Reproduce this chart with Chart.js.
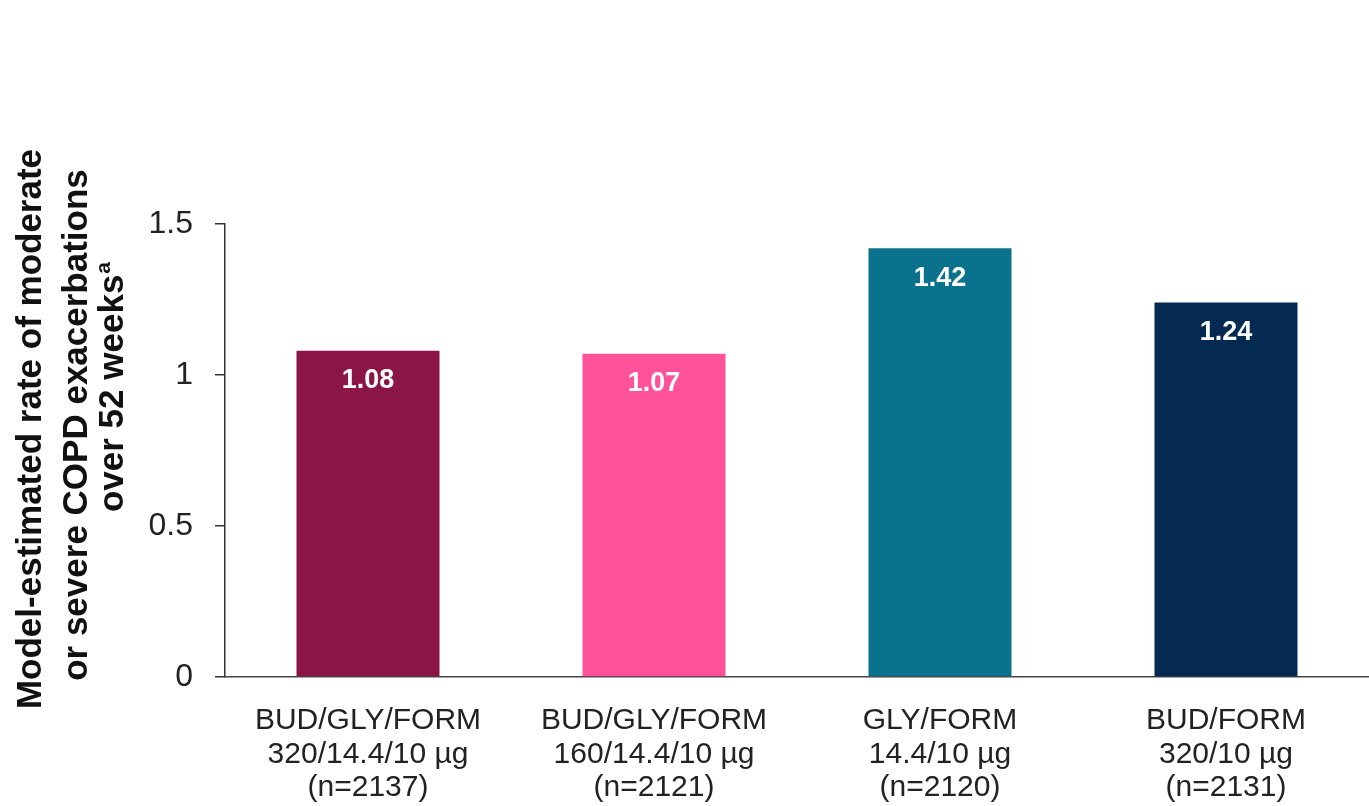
<!DOCTYPE html>
<html lang="en">
<head>
    <meta charset="UTF-8">
    <title>COPD exacerbation rate</title>
    <script src="https://cdn.jsdelivr.net/npm/chart.js@4.4.1/dist/chart.umd.min.js"></script>
    <style>
        body {
            margin: 0;
            background: #ffffff;
        }
        #rateChart {
            display: block;
        }
    </style>
</head>
<body>
    <canvas id="rateChart" width="1369" height="806"></canvas>

    <script>
        // treatment arms, shown as three-line labels under the bars
        const armNames = ['BUD/GLY/FORM', 'BUD/GLY/FORM', 'GLY/FORM', 'BUD/FORM'];
        const armDoses = ['320/14.4/10 \u00b5g', '160/14.4/10 \u00b5g', '14.4/10 \u00b5g', '320/10 \u00b5g'];
        const armCounts = ['(n=2137)', '(n=2121)', '(n=2120)', '(n=2131)'];

        // model-estimated annual rate of moderate/severe exacerbations
        const rates = [1.08, 1.07, 1.42, 1.24];
        const barColors = ['#8b1546', '#ff529b', '#0a728c', '#052a52'];

        const yTicks = [0, 0.5, 1, 1.5];
        const yTickLabels = ['0', '0.5', '1', '1.5'];

        const titleLines = ['Model-estimated rate of moderate', 'or severe COPD exacerbations', 'over 52 weeks'];

        const categories = armNames.map((n, i) => [n, armDoses[i], armCounts[i]]);

        // rotated y-axis title, with the footnote mark on the last line
        const sideTitle = {
            id: 'sideTitle',
            afterDraw(chart) {
                const ctx = chart.ctx;
                const baselines = [41, 87, 123];
                const centers = [429, 425, 387];
                ctx.save();
                ctx.fillStyle = '#111';
                ctx.textBaseline = 'alphabetic';
                titleLines.forEach((line, i) => {
                    ctx.save();
                    ctx.translate(baselines[i], centers[i]);
                    ctx.rotate(-Math.PI / 2);
                    ctx.font = 'bold 35px Arial, "Liberation Sans", sans-serif';
                    const w = ctx.measureText(line).width;
                    let supW = 0;
                    if (i === titleLines.length - 1) {
                        ctx.font = 'bold 21px Arial, "Liberation Sans", sans-serif';
                        supW = ctx.measureText('a').width + 1;
                    }
                    const start = -(w + supW) / 2;
                    ctx.font = 'bold 35px Arial, "Liberation Sans", sans-serif';
                    ctx.textAlign = 'left';
                    ctx.fillText(line, start, 0);
                    if (supW) {
                        ctx.font = 'bold 21px Arial, "Liberation Sans", sans-serif';
                        ctx.fillText('a', start + w + 1, -13);
                    }
                    ctx.restore();
                });
                ctx.restore();
            }
        };

        // white value printed inside the top of each bar
        const barValues = {
            id: 'barValues',
            afterDatasetsDraw(chart) {
                const ctx = chart.ctx;
                const meta = chart.getDatasetMeta(0);
                ctx.save();
                ctx.fillStyle = '#ffffff';
                ctx.font = 'bold 27px Arial, "Liberation Sans", sans-serif';
                ctx.textAlign = 'center';
                ctx.textBaseline = 'middle';
                meta.data.forEach((bar, i) => {
                    ctx.fillText(rates[i].toFixed(2), bar.x, bar.y + 30);
                });
                ctx.restore();
            }
        };

        new Chart(document.getElementById('rateChart'), {
            type: 'bar',
            data: {
                labels: categories,
                datasets: [{
                    data: rates,
                    backgroundColor: barColors,
                    borderWidth: 0,
                    categoryPercentage: 1,
                    barPercentage: 0.5
                }]
            },
            options: {
                responsive: false,
                animation: false,
                layout: {
                    padding: { top: 224, right: 0, bottom: 0, left: 0 }
                },
                plugins: {
                    legend: { display: false },
                    tooltip: { enabled: false }
                },
                scales: {
                    x: {
                        afterFit(scale) { scale.height = 129; },
                        grid: { display: false },
                        border: { display: true, color: '#444', width: 1.5 },
                        ticks: {
                            color: '#222',
                            padding: 19,
                            maxRotation: 0,
                            autoSkip: false,
                            font: { family: 'Arial, "Liberation Sans", sans-serif', size: 30, lineHeight: 1.12 }
                        }
                    },
                    y: {
                        min: 0,
                        max: 1.5,
                        afterFit(scale) { scale.width = 225; },
                        afterBuildTicks(scale) {
                            scale.ticks = yTicks.map(v => ({ value: v }));
                        },
                        grid: {
                            drawOnChartArea: false,
                            drawTicks: true,
                            tickLength: 10,
                            color: '#333',
                            lineWidth: 1.5
                        },
                        border: { display: true, color: '#333', width: 1.5 },
                        ticks: {
                            color: '#222',
                            padding: 22,
                            font: { family: 'Arial, "Liberation Sans", sans-serif', size: 32 },
                            callback: (value) => yTickLabels[yTicks.indexOf(value)]
                        }
                    }
                }
            },
            plugins: [sideTitle, barValues]
        });
    </script>
</body>
</html>
